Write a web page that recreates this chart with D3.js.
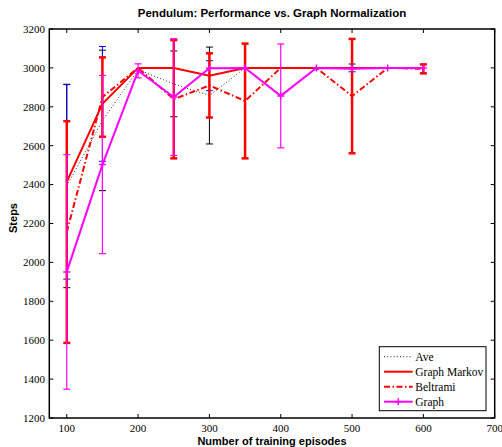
<!DOCTYPE html>
<html>
<head>
<meta charset="utf-8">
<script src="https://cdnjs.cloudflare.com/ajax/libs/d3/7.8.5/d3.min.js"></script>
<style>
  html, body { margin: 0; padding: 0; background: #fff; }
  svg { display: block; }
</style>
</head>
<body>
<svg id="chart" width="502" height="447"></svg>
<script>
// episodes on the x axis
var episodes = [100, 150, 200, 250, 300, 350, 400, 450, 500, 550, 600];

// mean steps per method
var aveMean      = [2393, 2730, 2990, 2918, 2858, 3000, 3000, 3000, 3000, 3000, 3000];
var markovMean   = [2414, 2815, 3000, 3000, 2960, 3000, 3000, 3000, 3000, 3000, 3000];
var beltramiMean = [2156, 2850, 3000, 2839, 2910, 2830, 3000, 3000, 2855, 3000, 2995];
var graphMean    = [1951, 2503, 2985, 2850, 2998, 3000, 2856, 3000, 2995, 3000, 3000];

// half-width of error bars
var aveErr      = [523, 361, 0, 169, 249, 0, 0, 0, 0, 0, 0];
var markovErr   = [500, 295, 0, 0, 77, 0, 0, 0, 20, 0, 0];
var beltramiErr = [570, 204, 0, 304, 165, 295, 0, 0, 294, 0, 23];
var graphErr    = [603, 458, 36, 300, 0, 0, 267, 0, 0, 0, 0];

var xTicks = [100, 200, 300, 400, 500, 600, 700];
var yTicks = [1200, 1400, 1600, 1800, 2000, 2200, 2400, 2600, 2800, 3000, 3200];

var svg = d3.select("#chart");

var mLeft = 49.3, mRight = 494.7, mTop = 29, mBottom = 418;

var x = d3.scaleLinear().domain([75.5, 700]).range([mLeft, mRight]);
var y = d3.scaleLinear().domain([1200, 3200]).range([mBottom, mTop]);

var series = [
    {name: "Ave", mean: aveMean, err: aveErr, color: "#222", width: 1, dash: "1,2.2",
     errColor: "#000", errWidth: 1},
    {name: "Graph Markov", mean: markovMean, err: markovErr, color: "#ff0000", width: 2, dash: null,
     errColor: "#0000ff", errWidth: 1},
    {name: "Beltrami", mean: beltramiMean, err: beltramiErr, color: "#ff0000", width: 2, dash: "6,2.5,1.5,2.5",
     errColor: "#ff0000", errWidth: 2.5},
    {name: "Graph", mean: graphMean, err: graphErr, color: "#ff00ff", width: 2, dash: null,
     errColor: "#ff00ff", errWidth: 1.2, marker: true}
];

// title
svg.append("text")
    .attr("x", (mLeft + mRight) / 2)
    .attr("y", 17)
    .attr("text-anchor", "middle")
    .style("font-family", "Liberation Sans, Arial, sans-serif")
    .style("font-weight", "bold")
    .style("font-size", "11.5px")
    .text("Pendulum: Performance vs. Graph Normalization");

var plot = svg.append("g");

var line = d3.line()
    .x(function (d) { return x(d.x); })
    .y(function (d) { return y(d.y); });

series.forEach(function (s) {
    var pts = episodes.map(function (e, i) {
        return {x: e, y: s.mean[i], e: s.err[i]};
    });

    // error bars
    var bars = plot.append("g")
        .attr("stroke", s.errColor)
        .attr("stroke-width", s.errWidth)
        .attr("fill", "none");
    pts.forEach(function (p) {
        if (!p.e) return;
        var cx = x(p.x), y0 = y(p.y - p.e), y1 = y(p.y + p.e);
        bars.append("line").attr("x1", cx).attr("x2", cx).attr("y1", y0).attr("y2", y1);
        bars.append("line").attr("x1", cx - 3.5).attr("x2", cx + 3.5).attr("y1", y0).attr("y2", y0);
        bars.append("line").attr("x1", cx - 3.5).attr("x2", cx + 3.5).attr("y1", y1).attr("y2", y1);
    });

    plot.append("path")
        .datum(pts)
        .attr("d", line)
        .attr("fill", "none")
        .attr("stroke", s.color)
        .attr("stroke-width", s.width)
        .attr("stroke-dasharray", s.dash);

    if (s.marker) {
        plot.append("g").selectAll("path")
            .data(pts)
            .enter().append("path")
            .attr("d", function (d) {
                var cx = x(d.x), cy = y(d.y);
                return "M" + (cx - 3.5) + "," + cy + "H" + (cx + 3.5) + "M" + cx + "," + (cy - 3.5) + "V" + (cy + 3.5);
            })
            .attr("stroke", s.color)
            .attr("stroke-width", 1.5);
    }
});

// axes box and ticks
var axes = svg.append("g");
axes.append("rect")
    .attr("x", mLeft).attr("y", mTop)
    .attr("width", mRight - mLeft).attr("height", mBottom - mTop)
    .attr("fill", "none").attr("stroke", "#000").attr("stroke-width", 1.5);

xTicks.forEach(function (t) {
    var px = x(t);
    axes.append("line").attr("x1", px).attr("x2", px).attr("y1", mBottom).attr("y2", mBottom - 4)
        .attr("stroke", "#000");
    axes.append("line").attr("x1", px).attr("x2", px).attr("y1", mTop).attr("y2", mTop + 4)
        .attr("stroke", "#000");
    axes.append("text")
        .attr("x", px).attr("y", 432)
        .attr("text-anchor", "middle")
        .style("font-family", "Liberation Serif, Times New Roman, serif")
        .style("font-size", "11px")
        .text(t);
});

yTicks.forEach(function (t) {
    var py = y(t);
    axes.append("line").attr("x1", mLeft).attr("x2", mLeft + 4).attr("y1", py).attr("y2", py)
        .attr("stroke", "#000");
    axes.append("line").attr("x1", mRight).attr("x2", mRight - 4).attr("y1", py).attr("y2", py)
        .attr("stroke", "#000");
    axes.append("text")
        .attr("x", 45).attr("y", py)
        .attr("dy", "0.35em")
        .attr("text-anchor", "end")
        .style("font-family", "Liberation Serif, Times New Roman, serif")
        .style("font-size", "11px")
        .text(t);
});

svg.append("text")
    .attr("x", (mLeft + mRight) / 2)
    .attr("y", 445)
    .attr("text-anchor", "middle")
    .style("font-family", "Liberation Sans, Arial, sans-serif")
    .style("font-weight", "bold")
    .style("font-size", "11px")
    .text("Number of training episodes");

svg.append("text")
    .attr("transform", "translate(17,218) rotate(-90)")
    .attr("text-anchor", "middle")
    .style("font-family", "Liberation Sans, Arial, sans-serif")
    .style("font-weight", "bold")
    .style("font-size", "11px")
    .text("Steps");

// legend
var legend = svg.append("g");
legend.append("rect")
    .attr("x", 379.3).attr("y", 346.7)
    .attr("width", 106.7).attr("height", 64)
    .attr("fill", "#fff").attr("stroke", "#000").attr("stroke-width", 1);

series.forEach(function (s, i) {
    var ly = 356.7 + i * 15;
    legend.append("line")
        .attr("x1", 384).attr("x2", 412.7).attr("y1", ly).attr("y2", ly)
        .attr("stroke", s.color).attr("stroke-width", s.width)
        .attr("stroke-dasharray", s.dash);
    if (s.marker) {
        legend.append("path")
            .attr("d", "M394.8," + ly + "H401.8M398.3," + (ly - 3.5) + "V" + (ly + 3.5))
            .attr("stroke", s.color).attr("stroke-width", 1.5);
    }
    legend.append("text")
        .attr("x", 415.3).attr("y", ly)
        .attr("dy", "0.35em")
        .style("font-family", "Liberation Serif, Times New Roman, serif")
        .style("font-size", "11.5px")
        .text(s.name);
});
</script>
</body>
</html>
